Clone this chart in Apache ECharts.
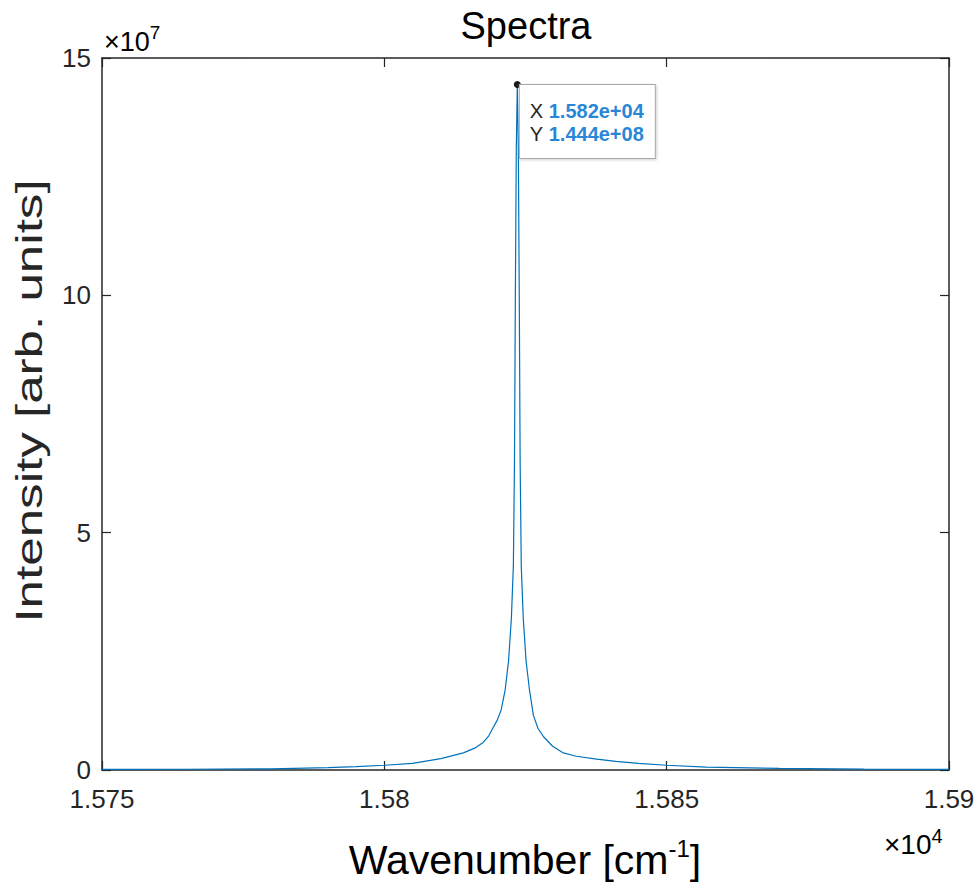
<!DOCTYPE html>
<html>
<head>
<meta charset="utf-8">
<script src="https://cdn.jsdelivr.net/npm/echarts@6/dist/echarts.min.js"></script>
<style>
  html, body { margin: 0; padding: 0; background: #fff; }
  #main { width: 980px; height: 884px; }
</style>
</head>
<body>
<div id="main"></div>
<script>
// wavenumber [cm^-1] and intensity [arb. units]
const wavenumber = [15750, 15765, 15780, 15790, 15795, 15800, 15805, 15810, 15814, 15816,
  15817.5, 15818.5, 15819.3, 15820.0, 15820.7, 15821.4, 15822.0, 15822.5, 15822.85, 15823.05,
  15823.2, 15823.37, 15823.55, 15823.73, 15823.9, 15824.05, 15824.25, 15824.6, 15825.1, 15825.7,
  15826.4, 15827.2, 15828.2, 15829.8, 15831.7, 15834, 15837.6, 15841, 15845, 15850,
  15857, 15870, 15885, 15900];
const intensity = [1.2e5, 1.6e5, 2.5e5, 5e5, 7e5, 1e6, 1.4e6, 2.4e6, 3.6e6, 4.6e6,
  5.8e6, 7.2e6, 9e6, 1.05e7, 1.27e7, 1.69e7, 2.3e7, 3.2e7, 4.3e7, 6.5e7,
  9.9e7, 1.31e8, 1.444e8, 1.31e8, 9.9e7, 6.5e7, 4.3e7, 3.2e7, 2.3e7, 1.69e7,
  1.15e7, 8.8e6, 7e6, 5e6, 3.6e6, 2.9e6, 2.3e6, 1.8e6, 1.4e6, 1e6,
  6e5, 3.5e5, 2e5, 1.2e5];

const xTicks = [15750, 15800, 15850, 15900];
const yTicks = [0, 5e7, 10e7, 15e7];

const FONT = "'Liberation Sans', Arial, Helvetica, sans-serif";
const AXIS_COLOR = '#262626';

// matlab style exponent: 1.582e+04
function matExp(v) {
  return v.toExponential(3).replace(/e([+-])(\d)$/, 'e$10$2');
}

const chart = echarts.init(document.getElementById('main'), null, { renderer: 'svg' });

let peak = 0;
intensity.forEach((v, i) => { if (v > intensity[peak]) peak = i; });

const data = wavenumber.map((w, i) => [w, intensity[i]]);

const xBase = {
  type: 'value',
  min: xTicks[0],
  max: xTicks[xTicks.length - 1],
  interval: 50,
  splitLine: { show: false },
  axisLine: { show: true, onZero: false, lineStyle: { color: AXIS_COLOR, width: 1.5 } },
  axisTick: { show: true, inside: true, length: 9, lineStyle: { color: AXIS_COLOR, width: 1.2 } }
};
const yBase = {
  type: 'value',
  min: yTicks[0],
  max: yTicks[yTicks.length - 1],
  interval: 5e7,
  splitLine: { show: false },
  axisLine: { show: true, onZero: false, lineStyle: { color: AXIS_COLOR, width: 1.5 } },
  axisTick: { show: true, inside: true, length: 9, lineStyle: { color: AXIS_COLOR, width: 1.2 } }
};

const option = {
  animation: false,
  backgroundColor: '#fff',
  grid: { left: 102, right: 31, top: 58, bottom: 114 },
  xAxis: [
    Object.assign({}, xBase, {
      position: 'bottom',
      axisLabel: {
        margin: 16, fontSize: 26, color: AXIS_COLOR, fontFamily: FONT,
        formatter: v => String(+(v / 1e4).toFixed(4))
      }
    }),
    Object.assign({}, xBase, { position: 'top', axisLabel: { show: false } })
  ],
  yAxis: [
    Object.assign({}, yBase, {
      position: 'left',
      axisLabel: {
        margin: 11, fontSize: 26, lineHeight: 26, color: AXIS_COLOR, fontFamily: FONT,
        formatter: v => String(v / 1e7)
      }
    }),
    Object.assign({}, yBase, { position: 'right', axisLabel: { show: false } })
  ],
  series: [{
    type: 'line',
    data: data,
    showSymbol: false,
    symbol: 'none',
    lineStyle: { color: '#0072BD', width: 1.2 },
    markPoint: {
      symbol: 'circle',
      symbolSize: 7,
      itemStyle: { color: '#1a1a1a' },
      label: {
        show: true,
        position: [6, 4],
        align: 'left',
        verticalAlign: 'top',
        backgroundColor: '#fff',
        borderColor: '#a8a8a8',
        borderWidth: 1,
        padding: [14, 11, 13, 10],
        shadowColor: 'rgba(0,0,0,0.18)',
        shadowBlur: 3,
        shadowOffsetX: 1,
        shadowOffsetY: 1,
        formatter: p => '{k|X }{v|' + matExp(p.data.coord[0]) + '}\n{k|Y }{v|' + matExp(p.data.coord[1]) + '}',
        rich: {
          k: { fontSize: 20, color: '#262626', fontFamily: FONT, lineHeight: 23 },
          v: { fontSize: 20, color: '#2a86d6', fontWeight: 'bold', fontFamily: FONT, lineHeight: 23 }
        }
      },
      data: [{ coord: [wavenumber[peak], intensity[peak]] }]
    }
  }],
  graphic: [
    {
      type: 'text', x: 526, y: 26,
      style: { text: 'Spectra', fontSize: 38, fontFamily: FONT, fill: '#000', align: 'center', verticalAlign: 'middle' }
    },
    {
      type: 'text', x: 29, y: 401, rotation: Math.PI / 2, scaleX: 1.42,
      style: { text: 'Intensity [arb. units]', fontSize: 36, fontFamily: FONT, fill: '#262626', align: 'center', verticalAlign: 'middle' }
    },
    {
      type: 'text', x: 525, y: 858,
      style: {
        text: '{b|Wavenumber [cm}{s|-1}{b|]}',
        align: 'center', verticalAlign: 'middle',
        rich: {
          b: { fontSize: 41, fontFamily: FONT, color: '#262626', lineHeight: 44, verticalAlign: 'bottom' },
          s: { fontSize: 24, fontFamily: FONT, color: '#262626', lineHeight: 24, verticalAlign: 'top' }
        }
      }
    },
    {
      type: 'text', x: 104, y: 39,
      style: {
        text: '{b|\u00d710}{s|7}',
        align: 'left', verticalAlign: 'middle',
        rich: {
          b: { fontSize: 27, fontFamily: FONT, color: '#262626', lineHeight: 32, verticalAlign: 'bottom' },
          s: { fontSize: 19, fontFamily: FONT, color: '#262626', lineHeight: 19, verticalAlign: 'top' }
        }
      }
    },
    {
      type: 'text', x: 884, y: 842,
      style: {
        text: '{b|\u00d710}{s|4}',
        align: 'left', verticalAlign: 'middle',
        rich: {
          b: { fontSize: 28, fontFamily: FONT, color: '#262626', lineHeight: 32, verticalAlign: 'bottom' },
          s: { fontSize: 20, fontFamily: FONT, color: '#262626', lineHeight: 20, verticalAlign: 'top' }
        }
      }
    }
  ]
};

chart.setOption(option);
</script>
</body>
</html>
